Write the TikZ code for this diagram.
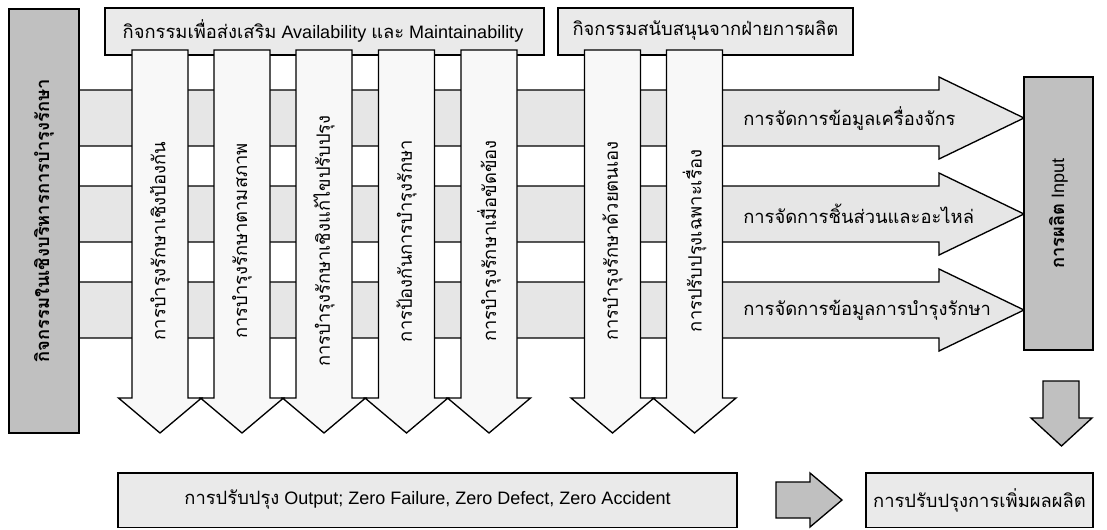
\documentclass[tikz,border=0pt]{standalone}
\usepackage{fontspec}
\setmainfont{Liberation Sans}
\newfontfamily\thai[Script=Thai,Scale=1.02]{Loma}
\definecolor{bandgray}{HTML}{E6E6E6}
\definecolor{boxgray}{HTML}{EAEAEA}
\definecolor{vwhite}{HTML}{F8F8F8}
\definecolor{darkbox}{HTML}{C0C0C0}
\begin{document}
\begin{tikzpicture}[x=0.75pt,y=-0.75pt,
  outl/.style={draw=black,line width=1pt,line join=miter},
  band/.style={outl,fill=bandgray},
  vbar/.style={outl,fill=vwhite},
  lightbox/.style={outl,fill=boxgray},
  darkrect/.style={outl,fill=darkbox},
  lbl/.style={inner sep=0pt,font=\fontsize{13.5}{15}\selectfont},
  blbl/.style={inner sep=0pt,font=\fontsize{13.5}{15}\selectfont\bfseries}]
\useasboundingbox (0,0) rectangle (1107,529);
% header boxes
\draw[lightbox] (105,8) rectangle (544,55);
\draw[lightbox] (558,8) rectangle (853,55);
\node[lbl] (h1) at (323,31) {{\thai กิจกรรมเพื่อส่งเสริม} Availability {\thai และ} Maintainability};
\node[lbl] (h2) at (705.5,31) {\thai กิจกรรมสนับสนุนจากฝ่ายการผลิต};
% horizontal arrows
\foreach \c in {118,214,310}
  \draw[band] (79,\c-28) -- (939,\c-28) -- (939,\c-41) -- (1024,\c) -- (939,\c+41) -- (939,\c+28) -- (79,\c+28) -- cycle;
% vertical arrows
\foreach \c in {160,242,324,406.5,489,612.5,694.5}
  \draw[vbar] (\c-28,50) -- (\c+28,50) -- (\c+28,398) -- (\c+41.5,398) -- (\c,433) -- (\c-41.5,398) -- (\c-28,398) -- cycle;
\node[lbl,rotate=90] (v1) at (160,241) {\thai การบำรุงรักษาเชิงป้องกัน};
\node[lbl,rotate=90] (v2) at (242,241) {\thai การบำรุงรักษาตามสภาพ};
\node[lbl,rotate=90] (v3) at (324,241) {\thai การบำรุงรักษาเชิงแก้ไขปรับปรุง};
\node[lbl,rotate=90] (v4) at (406.5,241) {\thai การป้องกันการบำรุงรักษา};
\node[lbl,rotate=90] (v5) at (489,241) {\thai การบำรุงรักษาเมื่อขัดข้อง};
\node[lbl,rotate=90] (v6) at (612.5,241) {\thai การบำรุงรักษาด้วยตนเอง};
\node[lbl,rotate=90] (v7) at (694.5,241) {\thai การปรับปรุงเฉพาะเรื่อง};
% horizontal labels
\node[lbl,anchor=west] (r1) at (743,118) {\thai การจัดการข้อมูลเครื่องจักร};
\node[lbl,anchor=west] (r2) at (743,214) {\thai การจัดการชิ้นส่วนและอะไหล่};
\node[lbl,anchor=west] (r3) at (743,310) {\thai การจัดการข้อมูลการบำรุงรักษา};
% left box
\draw[darkrect] (9,9) rectangle (79,433);
\node[blbl,rotate=90] (left) at (44,221) {\thai กิจกรรมในเชิงบริหารการบำรุงรักษา};
% right box
\draw[darkrect] (1024,77) rectangle (1093,350);
\node[lbl,rotate=90] (prod) at (1058.5,213.5) {{\thai\bfseries การผลิต} Input};
% down arrow
\draw[darkrect] (1043,381) -- (1079,381) -- (1079,418) -- (1092,418) -- (1061.5,446) -- (1031,418) -- (1043,418) -- cycle;
% bottom boxes
\draw[lightbox] (118,473) rectangle (737,527.5);
\node[lbl] (out) at (427.5,500) {{\thai การปรับปรุง} Output; Zero Failure, Zero Defect, Zero Accident};
\draw[darkrect] (776,482) -- (810,482) -- (810,473) -- (842,500) -- (810,527) -- (810,518) -- (776,518) -- cycle;
\draw[lightbox] (866,473) rectangle (1093,527.5);
\node[lbl] (prodimp) at (979.5,500) {\thai การปรับปรุงการเพิ่มผลผลิต};
\end{tikzpicture}
\end{document}
